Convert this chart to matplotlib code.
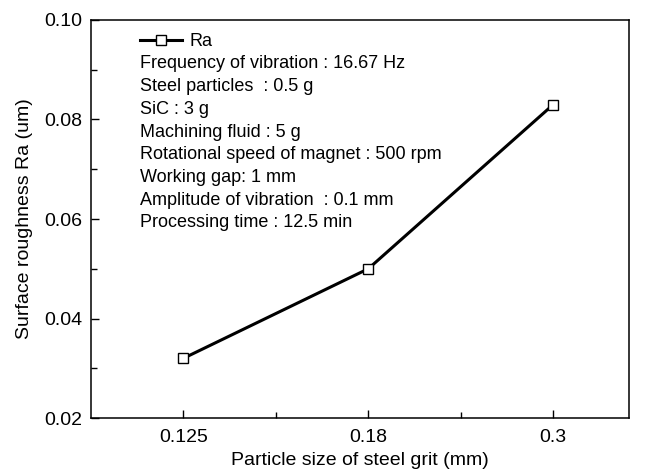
import numpy as np
import matplotlib.pyplot as plt
from matplotlib.ticker import MultipleLocator, FixedLocator

plt.rcParams['font.family'] = ['Liberation Sans', 'DejaVu Sans']

sizes = ['0.125', '0.18', '0.3']
ra = [0.032, 0.050, 0.083]
notes = [
    'Frequency of vibration : 16.67 Hz',
    'Steel particles  : 0.5 g',
    'SiC : 3 g',
    'Machining fluid : 5 g',
    'Rotational speed of magnet : 500 rpm',
    'Working gap: 1 mm',
    'Amplitude of vibration  : 0.1 mm',
    'Processing time : 12.5 min',
]

W, H = 647, 473
fig = plt.figure(figsize=(W / 100, H / 100), dpi=100)
# axes box in pixels: left 91, right 629, top 20, bottom 418
ax = fig.add_axes([91 / W, 1 - 418 / H, (629 - 91) / W, (418 - 20) / H])

x = np.arange(1, len(sizes) + 1)
ax.plot(x, ra, color='black', lw=2.2, marker='s', ms=7.5, mfc='white', mec='black', mew=1, label='Ra')

ax.set_xlim(0.5, 3.41)
ax.set_ylim(0.02, 0.10)
ax.xaxis.set_major_locator(FixedLocator(x))
ax.set_xticklabels(sizes)
ax.xaxis.set_minor_locator(FixedLocator([1.5, 2.5]))
ax.yaxis.set_major_locator(MultipleLocator(0.02))
ax.yaxis.set_minor_locator(MultipleLocator(0.01))
ax.yaxis.set_major_formatter('{x:.2f}')
ax.tick_params(which='both', direction='in', top=False, right=False, labelsize=14, pad=6)
ax.tick_params(axis='x', pad=8)
ax.tick_params(which='major', length=6, width=1)
ax.tick_params(which='minor', length=4, width=1)
for s in ax.spines.values():
    s.set_linewidth(1.1)

ax.set_xlabel('Particle size of steel grit (mm)', fontsize=14, labelpad=4)
ax.set_ylabel('Surface roughness Ra (um)', fontsize=14, labelpad=8)

fig.legend(handles=ax.get_lines(), loc='center left', bbox_to_anchor=(140 / W, 1 - 42 / H),
           frameon=False, fontsize=13, handlelength=2.3, handletextpad=0.45,
           borderpad=0, borderaxespad=0)

for i, line in enumerate(notes):
    fig.text(140.5 / W, 1 - (64 + 22.7 * i) / H, line, fontsize=13, va='center', ha='left')

plt.savefig('out.png')
